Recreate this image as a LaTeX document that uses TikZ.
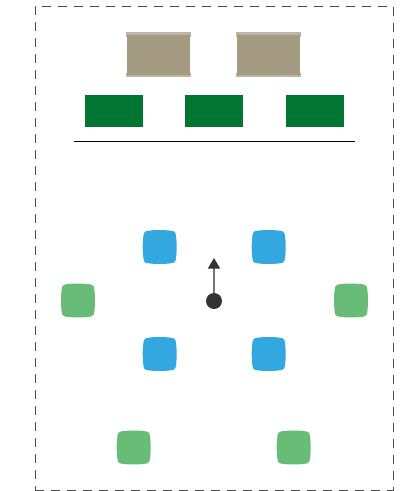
\documentclass[tikz,border=0pt]{standalone}
\usepackage{xcolor}
\usepackage{tikz}
\usetikzlibrary{arrows.meta,positioning,calc}

\definecolor{tabletan}{HTML}{A59A82}
\definecolor{tablerim}{HTML}{BDB5A3}
\definecolor{deskgreen}{HTML}{007632}
\definecolor{seatblue}{HTML}{33A8E0}
\definecolor{seatgreen}{HTML}{69BC78}
\definecolor{darkdot}{HTML}{333333}

\begin{document}
\begin{tikzpicture}[
    x=1pt,
    y=-1pt,
    node distance=42pt,
    table/.style={rectangle, minimum width=62.5pt, minimum height=40pt, inner sep=0pt, fill=tabletan,
        append after command={\pgfextra{
            \fill[tablerim] ($(\tikzlastnode.north west)+(-1.2,-2)$) rectangle ($(\tikzlastnode.north east)+(1.2,2.2)$);
            \fill[tablerim] ($(\tikzlastnode.south west)+(-1.2,-2.2)$) rectangle ($(\tikzlastnode.south east)+(1.2,2)$);
        }}},
    desk/.style={rectangle, minimum width=58pt, minimum height=32pt, inner sep=0pt, fill=deskgreen},
    seat/.style={rectangle, minimum size=34pt, inner sep=0pt,
        append after command={\pgfextra{
            \fill[#1, shift={(\tikzlastnode.center)}] (0,-17)
                .. controls (6,-17) and (11,-16.5) .. (14,-15.7)
                .. controls (15,-15.4) and (15.4,-15) .. (15.7,-14)
                .. controls (16.5,-11) and (17,-6) .. (17,0)
                .. controls (17,6) and (16.5,11) .. (15.7,14)
                .. controls (15.4,15) and (15,15.4) .. (14,15.7)
                .. controls (11,16.5) and (6,17) .. (0,17)
                .. controls (-6,17) and (-11,16.5) .. (-14,15.7)
                .. controls (-15,15.4) and (-15.4,15) .. (-15.7,14)
                .. controls (-16.5,11) and (-17,6) .. (-17,0)
                .. controls (-17,-6) and (-16.5,-11) .. (-15.7,-14)
                .. controls (-15.4,-15) and (-15,-15.4) .. (-14,-15.7)
                .. controls (-11,-16.5) and (-6,-17) .. (0,-17) -- cycle;
        }}},
    dot/.style={circle, minimum size=16pt, inner sep=0pt, fill=darkdot},
    arrow/.style={line width=1.4pt, draw=black!55, -{Triangle[width=12pt,length=10.5pt,color=darkdot,fill=darkdot]}}
]

\useasboundingbox (0,0) rectangle (406,491);

% Room outline
\node (room) [rectangle, minimum width=358pt, minimum height=484pt, inner sep=0pt, draw=black!70,
    line width=0.9pt, dash pattern=on 9pt off 7pt] at (214,248) {};

% Front of the room
\node (table1) [table] at (158.7,54.5) {};
\node (table2) [table] at (268.7,54.5) {};
\node (desk1) [desk] at (114,111) {};
\node (desk2) [desk, right=of desk1] {};
\node (desk3) [desk, right=of desk2] {};

\coordinate (lineL) at (74,141.5);
\coordinate (lineR) at (355,141.5);
\draw [black, line width=1pt] (lineL) -- (lineR);

% Seats
\node (blue1) [seat=seatblue] at (159.7,247) {};
\node (blue2) [seat=seatblue] at (268.7,247) {};
\node (blue3) [seat=seatblue] at (159.7,354) {};
\node (blue4) [seat=seatblue] at (268.7,354) {};
\node (green1) [seat=seatgreen] at (78,300.5) {};
\node (green2) [seat=seatgreen] at (351,300.5) {};
\node (green3) [seat=seatgreen] at (133.7,447.5) {};
\node (green4) [seat=seatgreen] at (293.7,447.5) {};

% Listener
\node (listener) [dot] at (214,301) {};
\coordinate (facing) at (214,258);
\draw [arrow] (listener) -- (facing);

\end{tikzpicture}
\end{document}
